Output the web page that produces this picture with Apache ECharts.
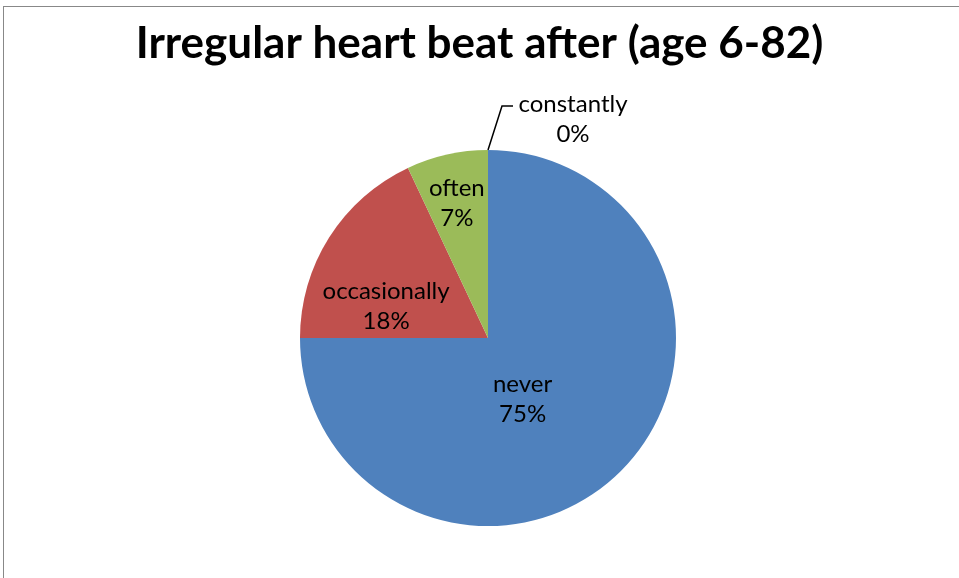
<!DOCTYPE html>
<html>
<head>
<meta charset="utf-8">
<script src="https://cdn.jsdelivr.net/npm/echarts@6/dist/echarts.min.js"></script>
<style>
  html, body { margin: 0; padding: 0; background: #fff; }
  #frame { position: absolute; left: 3px; top: 6px; width: 970px; height: 590px; border: 1px solid #888; box-sizing: border-box; }
  #chart { position: absolute; left: 0; top: 0; width: 959px; height: 578px; }
</style>
</head>
<body>
<div id="frame"></div>
<div id="chart"></div>
<script>
// Survey answers, in drawing order (clockwise from 12 o'clock)
const categories = ['never', 'occasionally', 'often', 'constantly'];
const values = [75, 18, 7, 0];
const colors = ['#4F81BD', '#C0504D', '#9BBB59', '#8064A2'];

// Per-slice label placement tweaks (applied when building series data)
const labelTweaks = [
  { position: 'inside', offset: [-34, -7] },
  { position: 'inside', offset: [-20, 20] },
  { position: 'inside', offset: [-10, -40] },
  { position: 'outside', offset: [0, 0] }
];

const seriesData = categories.map((name, i) => ({
  name: name,
  value: values[i],
  itemStyle: { color: colors[i] },
  label: labelTweaks[i].position === 'outside'
    ? { position: 'outside', align: 'center' }
    : { position: 'inside', offset: labelTweaks[i].offset },
  labelLine: { show: labelTweaks[i].position === 'outside' }
}));

const chart = echarts.init(document.getElementById('chart'), null, { renderer: 'canvas' });
chart.setOption({
  animation: false,
  backgroundColor: 'transparent',
  title: {
    text: 'Irregular heart beat after (age 6-82)',
    left: 'center',
    top: 17,
    textStyle: { fontFamily: 'Lato', fontWeight: 'bold', fontSize: 44, color: '#000' }
  },
  series: [{
    type: 'pie',
    center: [488, 338],
    radius: 188,
    startAngle: 90,
    clockwise: true,
    avoidLabelOverlap: false,
    minShowLabelAngle: 0,
    data: seriesData,
    label: {
      show: true,
      formatter: '{b}\n{d}%',
      fontFamily: 'Lato',
      fontSize: 24,
      lineHeight: 30,
      color: '#000',
      align: 'center'
    },
    labelLine: {
      show: true,
      length: 44,
      length2: 12,
      lineStyle: { color: '#000', width: 1.5 }
    },
    labelLayout: function (params) {
      if (params.dataIndex !== 3) return {};
      const pts = params.labelLinePoints;
      if (!pts) return {};
      const start = pts[0];
      const bend = [start[0] + 14, start[1] - 44];
      const end = [bend[0] + 11, bend[1]];
      return {
        x: end[0] + 60,
        y: end[1] + 13,
        align: 'center',
        verticalAlign: 'middle',
        labelLinePoints: [start, bend, end]
      };
    }
  }]
});
</script>
</body>
</html>
